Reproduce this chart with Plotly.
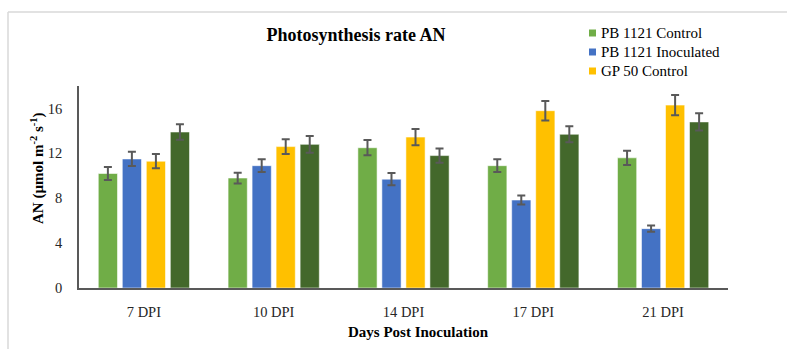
import plotly.graph_objects as go

categories = ["7 DPI", "10 DPI", "14 DPI", "17 DPI", "21 DPI"]
series_names = ["PB 1121 Control", "PB 1121 Inoculated", "GP 50 Control", "GP 50 Inoculated"]
pb_control = [10.2, 9.8, 12.5, 10.9, 11.6]
pb_control_err = [0.58, 0.48, 0.68, 0.57, 0.63]
pb_inoc = [11.5, 10.9, 9.7, 7.84, 5.29]
pb_inoc_err = [0.63, 0.57, 0.54, 0.41, 0.27]
gp_control = [11.3, 12.6, 13.45, 15.8, 16.3]
gp_control_err = [0.63, 0.65, 0.72, 0.87, 0.9]
gp_inoc = [13.9, 12.8, 11.8, 13.7, 14.8]
gp_inoc_err = [0.7, 0.75, 0.63, 0.72, 0.77]
y_ticks = [0, 4, 8, 12, 16]

colors = ["#70AD47", "#4472C4", "#FFC000", "#43682B"]
values = [pb_control, pb_inoc, gp_control, gp_inoc]
errors = [pb_control_err, pb_inoc_err, gp_control_err, gp_inoc_err]
in_legend = [True, True, True, False]

FONT = "Liberation Serif"
L, R, T, B = 79, 59, 86, 61
PW, PH = 787 - L - R, 349 - T - B


def px_x(x):
    return (x - L) / PW


def px_y(y):
    return (349 - B - y) / PH


fig = go.Figure()
for name, vals, errs, col in zip(series_names, values, errors, colors):
    fig.add_trace(go.Bar(
        x=categories, y=vals, name=name, showlegend=False,
        marker=dict(color=col, line=dict(color="rgba(255,255,255,0.55)", width=1)),
        error_y=dict(type="data", array=errs, visible=True, color="#595959",
                     thickness=2, width=4),
    ))

shapes = [
    dict(type="line", xref="paper", yref="paper", x0=px_x(8), x1=px_x(800),
         y0=px_y(12), y1=px_y(12), line=dict(color="#D9D9D9", width=1.5)),
    dict(type="line", xref="paper", yref="paper", x0=px_x(8), x1=px_x(8),
         y0=px_y(12), y1=px_y(360), line=dict(color="#D9D9D9", width=1.5)),
]
annotations = [
    dict(text="<b>AN (µmol m<sup>-2</sup> s<sup>-1</sup>)</b>", textangle=-90,
         xref="paper", yref="paper", x=px_x(37), y=px_y(168),
         xanchor="center", yanchor="middle", showarrow=False,
         font=dict(family=FONT, size=15, color="#000000")),
    dict(text="<b>Days Post Inoculation</b>",
         xref="paper", yref="paper", x=px_x(418), y=px_y(332),
         xanchor="center", yanchor="middle", showarrow=False,
         font=dict(family=FONT, size=15, color="#000000")),
]

# legend drawn as swatches + text (the 4th series has no entry in the reference)
row = 0
for name, col, show in zip(series_names, colors, in_legend):
    if not show:
        continue
    yc = 33 + 19 * row
    shapes.append(dict(type="rect", xref="paper", yref="paper",
                       x0=px_x(589), x1=px_x(596), y0=px_y(yc - 3.5), y1=px_y(yc + 3.5),
                       fillcolor=col, line=dict(width=0)))
    annotations.append(dict(text=name, xref="paper", yref="paper",
                            x=px_x(599), y=px_y(yc), xanchor="left", yanchor="middle",
                            showarrow=False,
                            font=dict(family=FONT, size=15, color="#000000")))
    row += 1

fig.update_layout(
    width=787, height=349,
    margin=dict(l=L, r=R, t=T, b=B),
    paper_bgcolor="white", plot_bgcolor="white",
    barmode="group", bargap=0.26, bargroupgap=0.2,
    showlegend=False,
    font=dict(family=FONT, size=14, color="#262626"),
    title=dict(text="<b>Photosynthesis rate AN</b>", x=356 / 787, xref="container",
               xanchor="center", y=1 - 35 / 349, yanchor="middle",
               font=dict(family=FONT, size=18, color="#000000")),
    xaxis=dict(showline=True, linecolor="#595959", linewidth=1.5, ticks="",
               tickfont=dict(family=FONT, size=14.5, color="#262626"),
               ticklabelstandoff=10, showgrid=False, zeroline=False),
    yaxis=dict(range=[0, 18], tickvals=y_ticks, showline=True, linecolor="#595959",
               linewidth=1.5, ticks="", showgrid=False, zeroline=False,
               tickfont=dict(family=FONT, size=14.5, color="#262626"), ticklabelstandoff=12),
    shapes=shapes,
    annotations=annotations,
)

fig.write_html("out.html")
